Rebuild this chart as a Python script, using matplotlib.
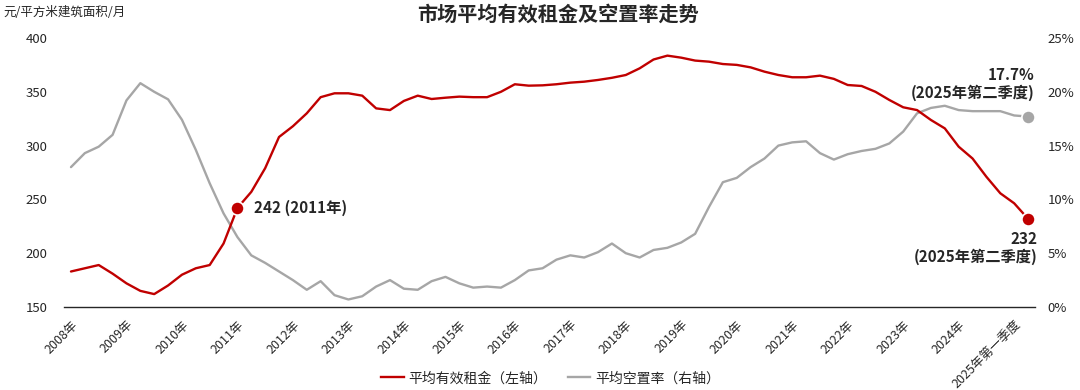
import matplotlib
matplotlib.use("Agg")
import matplotlib.pyplot as plt
from matplotlib.lines import Line2D

plt.rcParams['font.family'] = ['Noto Sans CJK SC', 'DejaVu Sans']

# quarterly, 2008Q1 .. 2025Q2
rent = [183, 186, 189, 181, 172, 165, 162, 170, 180, 186, 189, 209,
        242, 257, 279, 308, 318, 330, 345, 348.6, 348.6, 346.4, 334.6, 333,
        341.5, 346.4, 343.3, 344.5, 345.5, 345, 345, 350, 357, 355.7, 356, 357,
        358.5, 359.4, 361, 363, 365.6, 371.8, 380, 383.6, 381.7, 379, 378, 375.8,
        375, 372.7, 368.7, 365.6, 363.5, 363.5, 365, 362, 356.3, 355.4, 350, 342.4,
        335.6, 333, 323.8, 316, 299, 288, 271, 255.7, 246.4, 232]
vacancy = [13.0, 14.3, 14.9, 16.0, 19.2, 20.8, 20.0, 19.3, 17.4, 14.6, 11.5, 8.7,
           6.5, 4.8, 4.1, 3.3, 2.5, 1.6, 2.4, 1.1, 0.7, 1.0, 1.9, 2.5,
           1.7, 1.6, 2.4, 2.8, 2.2, 1.8, 1.9, 1.8, 2.5, 3.4, 3.6, 4.4,
           4.8, 4.6, 5.1, 5.9, 5.0, 4.6, 5.3, 5.5, 6.0, 6.8, 9.3, 11.6,
           12.0, 13.0, 13.8, 15.0, 15.3, 15.4, 14.3, 13.7, 14.2, 14.5, 14.7, 15.2,
           16.3, 18.0, 18.5, 18.7, 18.3, 18.2, 18.2, 18.2, 17.8, 17.7]
tick_labels = [f"{y}年" for y in range(2008, 2025)] + ["2025年第一季度"]
left_ticks = [150, 200, 250, 300, 350, 400]
right_ticks = [0, 5, 10, 15, 20, 25]

RED = '#C00000'
GRAY = '#A6A6A6'
TXT = '#262626'

x = list(range(len(rent)))
fig = plt.figure(figsize=(10.8, 3.9), dpi=100)
ax = fig.add_axes([0.0593, 0.2128, 0.8990, 0.6898])
ax2 = ax.twinx()
ax.set_zorder(ax2.get_zorder() + 1)
ax.patch.set_visible(False)

ax2.plot(x, vacancy, color=GRAY, lw=1.7, solid_capstyle='round', solid_joinstyle='round')
ax2.plot([x[-1]], [vacancy[-1]], 'o', color=GRAY, ms=9.5, mec='white', mew=1.2)
ax.plot(x, rent, color=RED, lw=1.7, solid_capstyle='round', solid_joinstyle='round')
i11 = 12
ax.plot([x[i11]], [rent[i11]], 'o', color=RED, ms=9.5, mec='white', mew=1.2, zorder=5)
ax.plot([x[-1]], [rent[-1]], 'o', color=RED, ms=9.5, mec='white', mew=1.2, zorder=5)

ax.set_xlim(-0.5, len(rent) - 0.5)
ax.set_ylim(150, 400)
ax2.set_ylim(0, 25)
ax.set_yticks(left_ticks)
ax.set_yticklabels([str(v) for v in left_ticks])
ax2.set_yticks(right_ticks)
ax2.set_yticklabels([f"{v}%" for v in right_ticks])
ax.set_xticks(list(range(0, len(rent), 4)))
ax.set_xticklabels(tick_labels, rotation=45, ha='right', rotation_mode='anchor')

for a in (ax, ax2):
    for s in ['top', 'left', 'right', 'bottom']:
        a.spines[s].set_visible(False)
    a.tick_params(length=0, labelsize=9.5, colors=TXT)
ax.spines['bottom'].set_visible(True)
ax.spines['bottom'].set_color('#262626')
ax.spines['bottom'].set_linewidth(1.0)
ax.tick_params(axis='y', pad=12)
ax.tick_params(axis='x', pad=8, labelsize=9)
ax2.tick_params(axis='y', pad=9)

ax.annotate("242 (2011年)", (x[i11], rent[i11]), xytext=(12, 0), textcoords='offset points',
            ha='left', va='center', fontsize=11, fontweight='bold', color=TXT)
ax2.annotate("17.7%\n(2025年第二季度)", (x[-1], vacancy[-1]), xytext=(5, 11), textcoords='offset points',
             ha='right', va='bottom', fontsize=11, fontweight='bold', color=TXT, linespacing=1.1)
ax.annotate("232\n(2025年第二季度)", (x[-1], rent[-1]), xytext=(7, -9), textcoords='offset points',
            ha='right', va='top', fontsize=11, fontweight='bold', color=TXT, linespacing=1.1)

fig.text(0.517, 0.963, "市场平均有效租金及空置率走势", ha='center', va='center',
         fontsize=14.5, fontweight='bold', color=TXT)
fig.text(0.003, 0.968, "元/平方米建筑面积/月", ha='left', va='center', fontsize=9, color=TXT)

handles = [Line2D([], [], color=RED, lw=1.7), Line2D([], [], color=GRAY, lw=1.7)]
fig.legend(handles, ["平均有效租金（左轴）", "平均空置率（右轴）"], loc='center',
           bbox_to_anchor=(0.51, 0.03), ncol=2, frameon=False, fontsize=10,
           handlelength=1.6, handletextpad=0.35, columnspacing=1.5, labelcolor=TXT)

fig.savefig("out.png", dpi=100)
